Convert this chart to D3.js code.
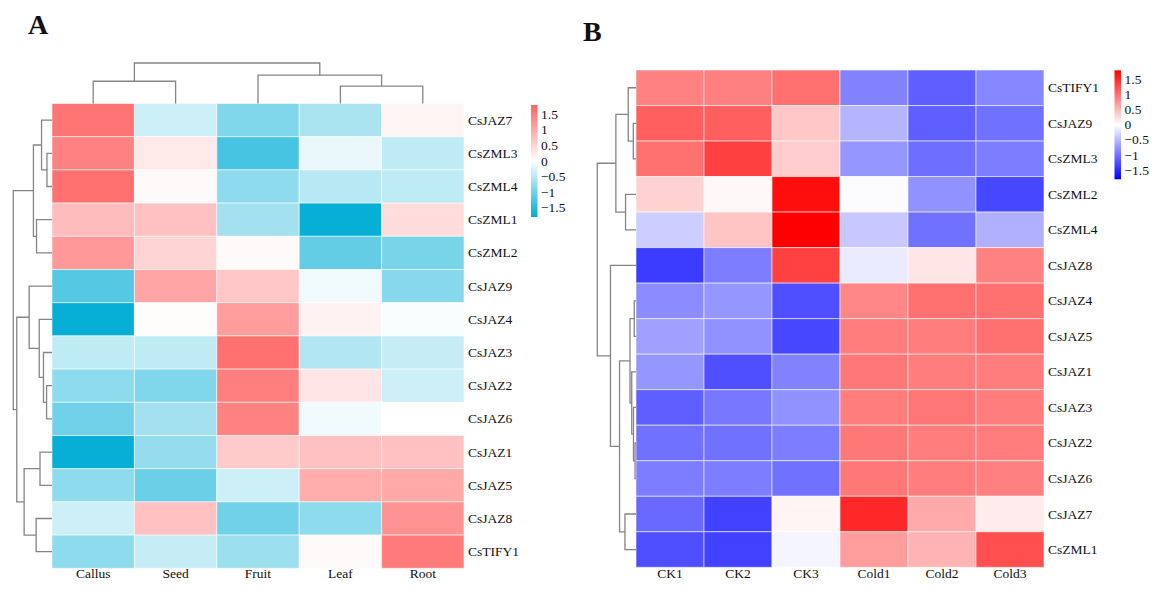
<!DOCTYPE html>
<html>
<head>
<meta charset="utf-8">
<script src="https://cdn.jsdelivr.net/npm/d3@7"></script>
<style>
  body { margin:0; background:#fff; }
  svg text { font-family:"Liberation Serif","Times New Roman",serif; fill:#111; }
</style>
</head>
<body>
<svg id="fig" width="1158" height="591"></svg>
<script>
// ---------- data ----------
const rowsA = ["CsJAZ7","CsZML3","CsZML4","CsZML1","CsZML2","CsJAZ9","CsJAZ4","CsJAZ3","CsJAZ2","CsJAZ6","CsJAZ1","CsJAZ5","CsJAZ8","CsTIFY1"];
const colsA = ["Callus","Seed","Fruit","Leaf","Root"];
const valuesA = [
  [ 1.60,-0.35,-0.90,-0.60, 0.12],
  [ 1.45, 0.25,-1.30,-0.15,-0.45],
  [ 1.65, 0.06,-0.80,-0.50,-0.45],
  [ 0.78, 0.72,-0.65,-1.75, 0.40],
  [ 1.20, 0.50, 0.06,-1.10,-0.95],
  [-1.20, 1.05, 0.65,-0.10,-0.85],
  [-1.75, 0.04, 1.15, 0.15,-0.05],
  [-0.45,-0.45, 1.65,-0.55,-0.40],
  [-0.80,-0.90, 1.50, 0.30,-0.35],
  [-1.00,-0.65, 1.45,-0.10, 0.00],
  [-1.75,-0.75, 0.62, 0.72, 0.72],
  [-0.80,-1.05,-0.35, 0.95, 1.00],
  [-0.35, 0.72,-1.00,-0.80, 1.25],
  [-0.80,-0.40,-0.70, 0.06, 1.55]
];
// linkage: [childA, childB, height]; leaves are 0..n-1, merges numbered from n
const rowLinkA = [[1,2,1.3],[0,14,2.7],[3,4,4.0],[15,16,4.8],[8,9,1.4],[7,18,2.2],[6,19,3.3],[5,20,5.9],
                  [10,11,3.1],[12,13,4.1],[22,23,7.2],[21,24,9.1],[17,25,10]];
const colLinkA = [[0,1,5.5],[3,4,4.3],[2,6,7.0],[5,7,10]];

const rowsB = ["CsTIFY1","CsJAZ9","CsZML3","CsZML2","CsZML4","CsJAZ8","CsJAZ4","CsJAZ5","CsJAZ1","CsJAZ3","CsJAZ2","CsJAZ6","CsJAZ7","CsZML1"];
const colsB = ["CK1","CK2","CK3","Cold1","Cold2","Cold3"];
const valuesB = [
  [ 0.88, 0.90, 1.00,-0.88,-1.13,-0.85],
  [ 1.13, 1.13, 0.39,-0.53,-1.13,-1.00],
  [ 1.00, 1.35, 0.35,-0.74,-1.02,-0.92],
  [ 0.32, 0.05, 1.70,-0.02,-0.78,-1.30],
  [-0.35, 0.42, 1.80,-0.39,-1.00,-0.56],
  [-1.38,-0.92, 1.34,-0.14, 0.18, 0.88],
  [-0.81,-0.74,-1.24, 0.85, 1.00, 1.00],
  [-0.67,-0.78,-1.30, 0.92, 0.92, 1.00],
  [-0.74,-1.24,-0.88, 0.95, 0.92, 0.92],
  [-1.13,-0.95,-0.78, 0.92, 0.97, 0.92],
  [-1.00,-1.00,-0.92, 0.95, 0.92, 0.92],
  [-0.92,-0.92,-1.00, 0.95, 0.92, 0.90],
  [-1.06,-1.34, 0.07, 1.52, 0.60, 0.14],
  [-1.24,-1.34,-0.07, 0.70, 0.53, 1.24]
];
const rowLinkB = [[1,2,0.7],[0,14,2.0],[3,4,2.7],[15,16,5.2],[6,7,0.45],[10,11,0.25],[9,19,0.65],[8,20,1.1],
                  [18,21,1.55],[12,13,2.85],[22,23,4.25],[5,24,6.6],[17,25,10]];

const legendTicks = [1.5,1,0.5,0,-0.5,-1,-1.5];

// ---------- helpers ----------
const svg = d3.select("#fig");
const fmt = v => (v<0 ? "\u2212" : "") + Math.abs(v);

function heatmap(g, rows, cols, vals, box, color){
  const x = d3.scaleBand().domain(cols).range([box.x0, box.x1]);
  const y = d3.scaleBand().domain(rows).range([box.y0, box.y1]);
  const cells = [];
  vals.forEach((r,i)=> r.forEach((v,j)=> cells.push({row:rows[i], col:cols[j], v})));
  g.append("g").selectAll("rect").data(cells).join("rect")
    .attr("x", d=>x(d.col)).attr("y", d=>y(d.row))
    .attr("width", x.bandwidth()).attr("height", y.bandwidth())
    .attr("fill", d=>color(d.v))
    .attr("stroke","rgba(255,255,255,0.55)").attr("stroke-width",1);
  g.append("g").selectAll("text").data(rows).join("text")
    .attr("x", box.x1+4).attr("y", d=>y(d)+y.bandwidth()/2)
    .attr("dominant-baseline","central").attr("font-size",13.5).text(d=>d);
  g.append("g").selectAll("text").data(cols).join("text")
    .attr("x", d=>x(d)+x.bandwidth()/2).attr("y", 578)
    .attr("text-anchor","middle").attr("font-size",13.5).text(d=>d);
  return {x, y};
}

// dendrogram from linkage; pos: leaf index -> coordinate, hs: height scale, horiz: row dendrogram
function dendro(g, n, link, pos, hs, horiz){
  const P = d3.range(n).map(pos), H = d3.range(n).map(()=>0);
  const seg = [];
  link.forEach(([a,b,h])=>{
    const ha = hs(H[a]), hb = hs(H[b]), hm = hs(h);
    seg.push([[ha,P[a]],[hm,P[a]],[hm,P[b]],[hb,P[b]]]);
    P.push((P[a]+P[b])/2); H.push(h);
  });
  const line = d3.line().x(d=>horiz?d[0]:d[1]).y(d=>horiz?d[1]:d[0]);
  g.append("g").selectAll("path").data(seg).join("path")
    .attr("d", line).attr("fill","none").attr("stroke","#858585").attr("stroke-width",1.3);
}

function legend(g, x0, y0, y1, colors){
  const s = d3.scaleLinear().domain([-1.8,1.8]).range([y1,y0]);
  const id = "lg"+Math.round(x0);
  const grad = svg.append("defs").append("linearGradient").attr("id",id)
    .attr("x1",0).attr("y1",1).attr("x2",0).attr("y2",0);
  colors.forEach((c,i)=> grad.append("stop").attr("offset", i/(colors.length-1)).attr("stop-color",c));
  g.append("rect").attr("x",x0).attr("y",y0).attr("width",6.5).attr("height",y1-y0).attr("fill",`url(#${id})`);
  g.append("g").selectAll("text").data(legendTicks).join("text")
    .attr("x", x0+10).attr("y", d=>s(d)).attr("dominant-baseline","central")
    .attr("font-size",13.5).text(fmt);
}

// ---------- panel A ----------
const colorA = d3.scaleLinear().domain([-1.8,0,1.8]).range(["#00ADD6","#ffffff","#FF6464"]);
const gA = svg.append("g");
const boxA = {x0:52, x1:464, y0:103.5, y1:568.3};
const sA = heatmap(gA, rowsA, colsA, valuesA, boxA, colorA);
dendro(gA, rowsA.length, rowLinkA, i=>sA.y(rowsA[i])+sA.y.bandwidth()/2,
       d3.scaleLinear().domain([0,10]).range([boxA.x0, 13.3]), true);
dendro(gA, colsA.length, colLinkA, i=>sA.x(colsA[i])+sA.x.bandwidth()/2,
       d3.scaleLinear().domain([0,10]).range([boxA.y0, 63]), false);
legend(gA, 531, 105, 217, ["#00ADD6","#ffffff","#FF6464"]);
gA.append("text").attr("x",28).attr("y",34).attr("font-size",28).attr("font-weight","bold").text("A");

// ---------- panel B ----------
const colorB = d3.scaleLinear().domain([-1.8,0,1.8]).range(["#0000FF","#ffffff","#FF0000"]);
const gB = svg.append("g");
const boxB = {x0:636, x1:1044, y0:70, y1:567.3};
const sB = heatmap(gB, rowsB, colsB, valuesB, boxB, colorB);
dendro(gB, rowsB.length, rowLinkB, i=>sB.y(rowsB[i])+sB.y.bandwidth()/2,
       d3.scaleLinear().domain([0,10]).range([boxB.x0, 597.3]), true);
legend(gB, 1114.5, 70.3, 179.3, ["#0000FF","#ffffff","#FF0000"]);
gB.append("text").attr("x",583).attr("y",41).attr("font-size",28).attr("font-weight","bold").text("B");
</script>
</body>
</html>
